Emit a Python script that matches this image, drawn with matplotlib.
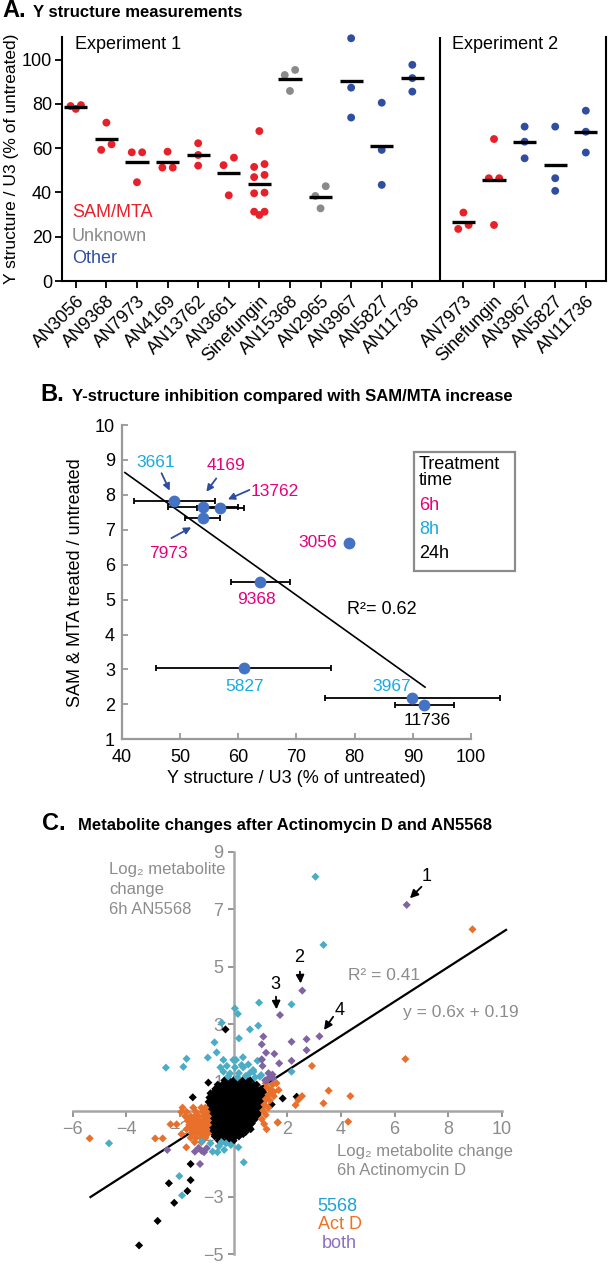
import numpy as np
import matplotlib
matplotlib.use('Agg')
import matplotlib.pyplot as plt
from matplotlib.patches import Rectangle

plt.rcParams['font.family'] = ['Liberation Sans', 'DejaVu Sans']

# ---------------- panel A: Y structure measurements ----------------
exp1_names = ['AN3056', 'AN9368', 'AN7973', 'AN4169', 'AN13762', 'AN3661',
              'Sinefungin', 'AN15368', 'AN2965', 'AN3967', 'AN5827', 'AN11736']
exp1_groups = ['sam', 'sam', 'sam', 'sam', 'sam', 'sam', 'sam',
               'unk', 'unk', 'oth', 'oth', 'oth']
exp1_vals = [
    [77.7, 79.4, 79.0],
    [71.5, 59.2, 61.7],
    [58.1, 58.1, 44.6],
    [58.4, 51.2, 51.2],
    [62.2, 56.9, 52.1],
    [55.7, 52.3, 38.7],
    [67.7, 52.8, 51.5, 47.9, 46.9, 39.9, 39.6, 31.3, 31.3, 29.8],
    [95.3, 93.0, 85.8],
    [42.8, 38.4, 32.8],
    [109.6, 87.3, 73.8],
    [80.5, 59.2, 43.4],
    [97.6, 91.6, 85.5],
]
exp2_names = ['AN7973', 'Sinefungin', 'AN3967', 'AN5827', 'AN11736']
exp2_groups = ['sam', 'sam', 'oth', 'oth', 'oth']
exp2_vals = [
    [30.9, 25.3, 23.5],
    [64.1, 46.4, 46.4, 25.3],
    [69.7, 62.9, 55.4],
    [69.7, 46.4, 40.7],
    [76.9, 67.4, 58.0],
]

# ---------------- panel B: Y-structure vs SAM/MTA ----------------
b_ids = ['3661', '4169', '13762', '7973', '9368', '3056', '5827', '3967', '11736']
b_yst = [49.0, 53.9, 56.9, 53.9, 63.8, 79.0, 60.9, 89.9, 92.0]
b_sam = [7.83, 7.66, 7.62, 7.33, 5.51, 6.61, 3.05, 2.19, 1.98]
b_err = [7.0, 6.0, 4.0, 3.0, 5.0, 0.0, 15.0, 15.0, 5.0]
b_time = ['8h', '6h', '6h', '6h', '6h', '6h', '8h', '8h', '24h']

# ---------------- panel C: metabolite changes ----------------
# black = changed in neither treatment (dense core typed row by row)
core_y = [1.05, 0.90, 0.75, 0.60, 0.45, 0.30, 0.15, 0.0, -0.15, -0.30,
          -0.45, -0.60, -0.75, -0.90, -1.05]
core_x = [
    [-0.34, -0.17, 0.0, 0.17, 0.34, 0.51, 0.62],
    [-0.59, -0.42, -0.25, -0.08, 0.08, 0.25, 0.42, 0.59, 0.76, 0.86],
    [-0.68, -0.51, -0.34, -0.17, 0.0, 0.17, 0.34, 0.51, 0.68, 0.85, 1.02, 1.1],
    [-0.86, -0.76, -0.59, -0.42, -0.25, -0.08, 0.08, 0.25, 0.42, 0.59, 0.76, 0.93, 1.1, 1.15],
    [-0.9, -0.85, -0.68, -0.51, -0.34, -0.17, 0.0, 0.17, 0.34, 0.51, 0.68, 0.85, 1.02, 1.15],
    [-0.93, -0.76, -0.59, -0.42, -0.25, -0.08, 0.08, 0.25, 0.42, 0.59, 0.76, 0.93, 1.1],
    [-0.9, -0.85, -0.68, -0.51, -0.34, -0.17, 0.0, 0.17, 0.34, 0.51, 0.68, 0.85, 1.02, 1.1],
    [-0.93, -0.76, -0.59, -0.42, -0.25, -0.08, 0.08, 0.25, 0.42, 0.59, 0.76, 0.93, 1.0],
    [-0.9, -0.85, -0.68, -0.51, -0.34, -0.17, 0.0, 0.17, 0.34, 0.51, 0.68, 0.85, 0.9],
    [-0.93, -0.76, -0.59, -0.42, -0.25, -0.08, 0.08, 0.25, 0.42, 0.59, 0.76, 0.8],
    [-0.9, -0.85, -0.68, -0.51, -0.34, -0.17, 0.0, 0.17, 0.34, 0.51, 0.68],
    [-0.84, -0.76, -0.59, -0.42, -0.25, -0.08, 0.08, 0.25, 0.42, 0.59],
    [-0.8, -0.68, -0.51, -0.34, -0.17, 0.0, 0.17, 0.34, 0.45],
    [-0.7, -0.59, -0.42, -0.25, -0.08, 0.08, 0.2],
    [-0.55, -0.4, -0.25, -0.1, 0.0],
]
none_x = [-0.3, -0.94, -1.52, 1.83, 2.35, 1.42, 0.36, 0.64, -1.60, -2.41,
          -1.60, -1.72, -2.21, -2.83, -3.52]
none_y = [2.82, 0.97, 0.46, 0.42, 0.48, 0.21, -0.82, -0.65, -1.86, -2.53,
          -2.42, -2.80, -3.21, -3.84, -4.69]

cyan_x = [3.05, 3.35, 2.16, 0.95, 0.05, 0.16, -0.44, 0.92, 0.61, 0.2, -0.71,
          -0.63, -0.96, -1.75, -1.87, -2.52, 2.16,
          -0.49, -0.38, -0.38, -0.2, -0.13, -0.01, 0.09, 0.05, 0.3, 0.36, 0.2,
          0.45, 0.6, 0.73, 0.74, 0.89, 0.98, 1.03, 1.05, 0.15, 0.55, -0.25,
          0.8, 0.35,
          -0.86, -0.28, -0.78, -0.35, -1.18, -0.55, -0.1, 0.18, 0.38, -0.6,
          -0.45, -4.64, -2.02, -1.92]
cyan_y = [8.13, 5.76, 3.69, 3.75, 3.55, 3.36, 3.05, 2.95, 2.82, 2.51, 2.37,
          2.02, 1.84, 1.80, 1.52, 1.49, 1.35,
          1.5, 1.76, 1.35, 1.18, 1.29, 1.76, 1.76, 1.5, 1.58, 1.5, 1.3,
          1.2, 1.3, 1.41, 1.35, 1.73, 1.18, 1.23, 1.76, 1.15, 1.6, 1.55,
          1.15, 1.85,
          -1.14, -1.14, -1.43, -1.37, -1.08, -1.25, -1.2, -1.28, -1.8, -1.45,
          -1.1, -1.14, -2.28, -2.95]

orange_x = [8.9, 6.40, 2.92, 3.54, 4.35, 3.35, 4.27, 1.65, 2.31, 2.41, 2.55,
            1.2, 1.45, 1.25, 1.4, 1.68, 1.3, 1.5, 1.2, 1.35, 1.15, 1.3, 1.1,
            1.2, 1.05, 1.14, 1.23, 1.64, 1.5, 1.6,
            -5.36, -2.92, -2.64, -2.35, -2.12, -1.94, -1.76,
            -1.9, -1.5, -1.2, -1.05,
            -1.95, -1.75, -1.4, -1.15, -1.0,
            -1.8, -1.6, -1.45, -1.3, -1.1, -0.95,
            -1.7, -1.55, -1.4, -1.25, -1.1, -0.95,
            -1.65, -1.5, -1.35, -1.2, -1.05, -0.95,
            -1.75, -1.6, -1.45, -1.3, -1.15, -1.0,
            -1.55, -1.4, -1.25, -1.1, -0.95,
            -1.6, -1.4, -1.2, -1.05, -1.45, -1.2]
orange_y = [6.30, 1.79, 1.55, 0.69, 0.50, 0.25, -0.39, -0.41, 0.19, 0.37, 0.50,
            0.95, 0.9, 0.8, 0.7, 0.71, 0.55, 0.5, 0.4, 0.35, 0.2, 0.1, 0.0,
            -0.15, -0.3, -0.47, -0.65, -0.42, 0.65, 0.95,
            -0.97, -0.97, -0.97, -0.48, -0.48, -0.82, -1.28,
            0.1, 0.1, 0.1, 0.1,
            -0.05, -0.05, -0.05, -0.05, -0.05,
            -0.2, -0.2, -0.2, -0.2, -0.2, -0.2,
            -0.35, -0.35, -0.35, -0.35, -0.35, -0.35,
            -0.5, -0.5, -0.5, -0.5, -0.5, -0.5,
            -0.65, -0.65, -0.65, -0.65, -0.65, -0.65,
            -0.8, -0.8, -0.8, -0.8, -0.8,
            -0.95, -0.95, -0.95, -0.95, -1.1, -1.1]

purple_x = [6.45, 2.56, 1.73, 3.2, 2.72, 2.16, 1.11, 1.05, 1.21, 1.52, 2.72,
            2.16, 1.70, 1.05, 1.08, 1.36, 1.25, 1.45, 1.3, 1.18, 1.47,
            -2.47, -1.44, -1.19, -1.0, -1.25, -1.3, -1.1]
purple_y = [7.15, 4.17, 3.32, 2.58, 2.48, 2.39, 2.57, 2.30, 2.01, 1.97, 2.10,
            1.73, 1.64, 1.78, 1.55, 1.18, 1.05, 1.25, 1.3, 1.05, 1.12,
            -1.37, -1.43, -1.40, -1.31, -1.86, -1.3, -1.45]

fit_slope = 0.6
fit_intercept = 0.19
marked_ids = ['1', '2', '3', '4']

# ------------------------------------------------------------------
W, H = 610, 1264
fig = plt.figure(figsize=(W / 100, H / 100), dpi=100)


def box(l, t, r, b):
    return [l / W, 1 - b / H, (r - l) / W, (b - t) / H]


def spread(vals, thr=4.45, step=0.17):
    # simple column scatter: points close in value are put side by side
    vals = np.asarray(vals, float)
    order = np.argsort(vals, kind='stable')
    offs = np.zeros(len(vals))
    i = 0
    while i < len(order):
        j = i
        while j + 1 < len(order) and vals[order[j + 1]] - vals[order[i]] < thr:
            j += 1
        n = j - i + 1
        if n == 2:
            pat = [-step, step]
        elif n == 3:
            pat = [0, -step, step]
        else:
            pat = (np.arange(n) - (n - 1) / 2) * step
        for k, idx in enumerate(order[i:j + 1]):
            offs[idx] = pat[k]
        i = j + 1
    return offs


# ---- A ----
group_col = {'sam': '#e8202a', 'unk': '#8a8a8a', 'oth': '#2f4ea1'}
axA = fig.add_axes(box(61.7, 36.7, 605.7, 281))
pos1 = np.arange(len(exp1_names))
pos2 = 12.67 + np.arange(len(exp2_names))
for pos, vals_l, groups in [(pos1, exp1_vals, exp1_groups), (pos2, exp2_vals, exp2_groups)]:
    for p, vals, g in zip(pos, vals_l, groups):
        off = spread(vals)
        axA.scatter(p + off, vals, s=32, color=group_col[g], edgecolors='none',
                    zorder=2, clip_on=False)
        m = np.mean(vals)
        axA.plot([p - 0.38, p + 0.38], [m, m], color='k', lw=2.4, zorder=3,
                 solid_capstyle='butt')
axA.axvline(11.9, color='k', lw=1.5)
axA.set_xlim(-0.46, 17.32)
axA.set_ylim(0, 110.3)
axA.spines['top'].set_visible(False)
for s in ['left', 'bottom', 'right']:
    axA.spines[s].set_linewidth(1.5)
axA.set_xticks(np.concatenate([pos1, pos2]))
axA.set_xticklabels(exp1_names + exp2_names, rotation=45, ha='right',
                    rotation_mode='anchor')
axA.set_yticks(range(0, 101, 20))
axA.tick_params(labelsize=13, length=5, width=1.3)
axA.tick_params(axis='y', pad=2)
axA.set_ylabel('Y structure / U3 (% of untreated)', fontsize=12.5, labelpad=2)
axA.text(-0.02, 107, 'Experiment 1', fontsize=13, va='center')
axA.text(12.29, 107, 'Experiment 2', fontsize=13, va='center')
axA.text(-0.13, 30.8, 'SAM/MTA', color=group_col['sam'], fontsize=13, va='center')
axA.text(-0.13, 20.3, 'Unknown', color=group_col['unk'], fontsize=13, va='center')
axA.text(-0.13, 10.3, 'Other', color=group_col['oth'], fontsize=13, va='center')

fig.text(2 / W, 1 - 17 / H, 'A.', fontsize=17, fontweight='bold')
fig.text(33 / W, 1 - 17 / H, 'Y structure measurements', fontsize=12, fontweight='bold')

# ---- B ----
mag, cya = '#e5007d', '#1aa9e0'
time_col = {'6h': mag, '8h': cya, '24h': 'k'}
axB = fig.add_axes(box(122, 425, 471, 739.3))
for x, y, e in zip(b_yst, b_sam, b_err):
    if e > 0:
        axB.errorbar(x, y, xerr=e, fmt='none', ecolor='k', elinewidth=1.3,
                     capsize=2.5, capthick=1.3, clip_on=False, zorder=3)
fit = np.polyfit(b_yst, b_sam, 1)
xx = np.array([40.5, 92.1])
axB.plot(xx, np.polyval(fit, xx), color='k', lw=1.2, zorder=2)
axB.plot(b_yst, b_sam, 'o', color='#4472c4', ms=8.5, mec='none', zorder=4,
         clip_on=False)
axB.set_xlim(40, 100)
axB.set_ylim(1, 10)
axB.set_xticks(range(40, 101, 10))
axB.set_yticks(range(1, 11))
for s in ['top', 'right']:
    axB.spines[s].set_visible(False)
for s in ['left', 'bottom']:
    axB.spines[s].set_color('#999999')
    axB.spines[s].set_linewidth(1.6)
axB.tick_params(labelsize=13, length=4, width=1.3, color='#999999', direction='in')
axB.tick_params(axis='x', pad=7)
axB.tick_params(axis='y', pad=5)
axB.set_xlabel('Y structure / U3 (% of untreated)', fontsize=13, labelpad=3)
axB.set_ylabel('SAM & MTA treated / untreated', fontsize=13, labelpad=8)

label_xy = {'3661': (45.8, 8.92), '4169': (57.9, 8.83), '13762': (66.3, 8.11),
            '7973': (48.0, 6.33), '9368': (63.1, 4.99), '3056': (73.6, 6.63),
            '5827': (61.1, 2.51), '3967': (86.4, 2.51), '11736': (92.5, 1.53)}
for bid, t in zip(b_ids, b_time):
    lx, ly = label_xy[bid]
    axB.text(lx, ly, bid, color=time_col[t], fontsize=12.5, ha='center', va='center')
arrows_b = [((46.8, 8.62), (48.2, 8.12)), ((56.2, 8.47), (54.5, 8.09)),
            ((61.9, 8.14), (58.2, 7.87)), ((48.5, 6.76), (51.9, 7.07))]
for tail, head in arrows_b:
    axB.annotate('', xy=head, xytext=tail,
                 arrowprops=dict(arrowstyle='-|>', color='#2e4da0', lw=1.3,
                                 mutation_scale=10, shrinkA=0, shrinkB=0))
axB.text(84.7, 4.72, 'R²= 0.62', fontsize=13, ha='center', va='center')
axB.add_patch(Rectangle((0.838, 0.536), 0.287, 0.379, transform=axB.transAxes,
                        facecolor='white', edgecolor='#8c8c8c', lw=1.6,
                        clip_on=False, zorder=5))
for txt, ty, c in [('Treatment', 0.873, 'k'), ('time', 0.823, 'k'),
                   ('6h', 0.745, mag), ('8h', 0.666, cya), ('24h', 0.592, 'k')]:
    axB.text(0.851, ty, txt, color=c, fontsize=13, va='center',
             transform=axB.transAxes, zorder=6)

fig.text(40 / W, 1 - 401 / H, 'B.', fontsize=17, fontweight='bold')
fig.text(72 / W, 1 - 400.5 / H, 'Y-structure inhibition compared with SAM/MTA increase',
         fontsize=12, fontweight='bold')

# ---- C ----
axC = fig.add_axes(box(72.5, 851.7, 502, 1254.3))
axC.set_xlim(-6, 10)
axC.set_ylim(-5, 9)
axC.set_axisbelow(True)
for s in ['top', 'right']:
    axC.spines[s].set_visible(False)
for s in ['left', 'bottom']:
    axC.spines[s].set_position(('data', 0))
    axC.spines[s].set_color('#a6a6a6')
    axC.spines[s].set_linewidth(1.8)
    axC.spines[s].set_zorder(0.6)
axC.set_xticks(range(-6, 11, 2))
axC.set_yticks(range(-5, 10, 2))
axC.tick_params(labelsize=13, colors='#8c8c8c', length=4, width=1.3)

blk_x = [x for row in core_x for x in row] + none_x
blk_y = [y for y, row in zip(core_y, core_x) for _ in row] + none_y
xl = np.array([-5.33, 10.15])
axC.plot(xl, fit_slope * xl + fit_intercept, color='k', lw=1.6, zorder=2.8,
         clip_on=False)
ms = 17
axC.scatter(blk_x, blk_y, s=ms, marker='D', color='k', edgecolors='none', zorder=3)
axC.scatter(orange_x, orange_y, s=ms, marker='D', color='#e8702a', edgecolors='none', zorder=3)
axC.scatter(cyan_x, cyan_y, s=ms, marker='D', color='#4bacc6', edgecolors='none', zorder=3)
axC.scatter(purple_x, purple_y, s=ms, marker='D', color='#8064a2', edgecolors='none',
            zorder=3, clip_on=False)

arrow_tail = [(7.0, 7.78), (2.47, 4.83), (1.58, 3.96), (3.71, 3.26)]
arrow_head = [(6.57, 7.38), (2.50, 4.42), (1.60, 3.52), (3.37, 2.80)]
id_xy = [(7.2, 8.14), (2.44, 5.32), (1.54, 4.37), (3.94, 3.47)]
for k in range(len(marked_ids)):
    axC.annotate('', xy=arrow_head[k], xytext=arrow_tail[k],
                 arrowprops=dict(arrowstyle='-|>', color='k', lw=1.3,
                                 mutation_scale=12, shrinkA=0, shrinkB=0),
                 zorder=5)
    axC.text(id_xy[k][0], id_xy[k][1], marked_ids[k], fontsize=13,
             ha='center', va='center', zorder=5)

grey = '#8c8c8c'
axC.text(-4.64, 8.37, 'Log₂ metabolite', color=grey, fontsize=12, va='center')
axC.text(-4.64, 7.67, 'change', color=grey, fontsize=12, va='center')
axC.text(-4.64, 7.0, '6h AN5568', color=grey, fontsize=12, va='center')
axC.text(3.85, -1.43, 'Log₂ metabolite change', color=grey, fontsize=12, va='center')
axC.text(3.85, -2.07, '6h Actinomycin D', color=grey, fontsize=12, va='center')
axC.text(4.27, 4.71, 'R² = 0.41', color=grey, fontsize=12.5, va='center')
axC.text(6.33, 3.40, 'y = 0.6x + 0.19', color=grey, fontsize=12.5, va='center')
axC.text(3.13, -3.35, '5568', color='#1ea0d6', fontsize=13, va='center')
axC.text(3.13, -3.98, 'Act D', color='#ef7222', fontsize=13, va='center')
axC.text(3.28, -4.64, 'both', color='#8b6fc0', fontsize=13, va='center')

fig.text(42 / W, 1 - 830.5 / H, 'C.', fontsize=17, fontweight='bold')
fig.text(78 / W, 1 - 830 / H, 'Metabolite changes after Actinomycin D and AN5568',
         fontsize=12, fontweight='bold')

fig.savefig('out.png', dpi=100)
